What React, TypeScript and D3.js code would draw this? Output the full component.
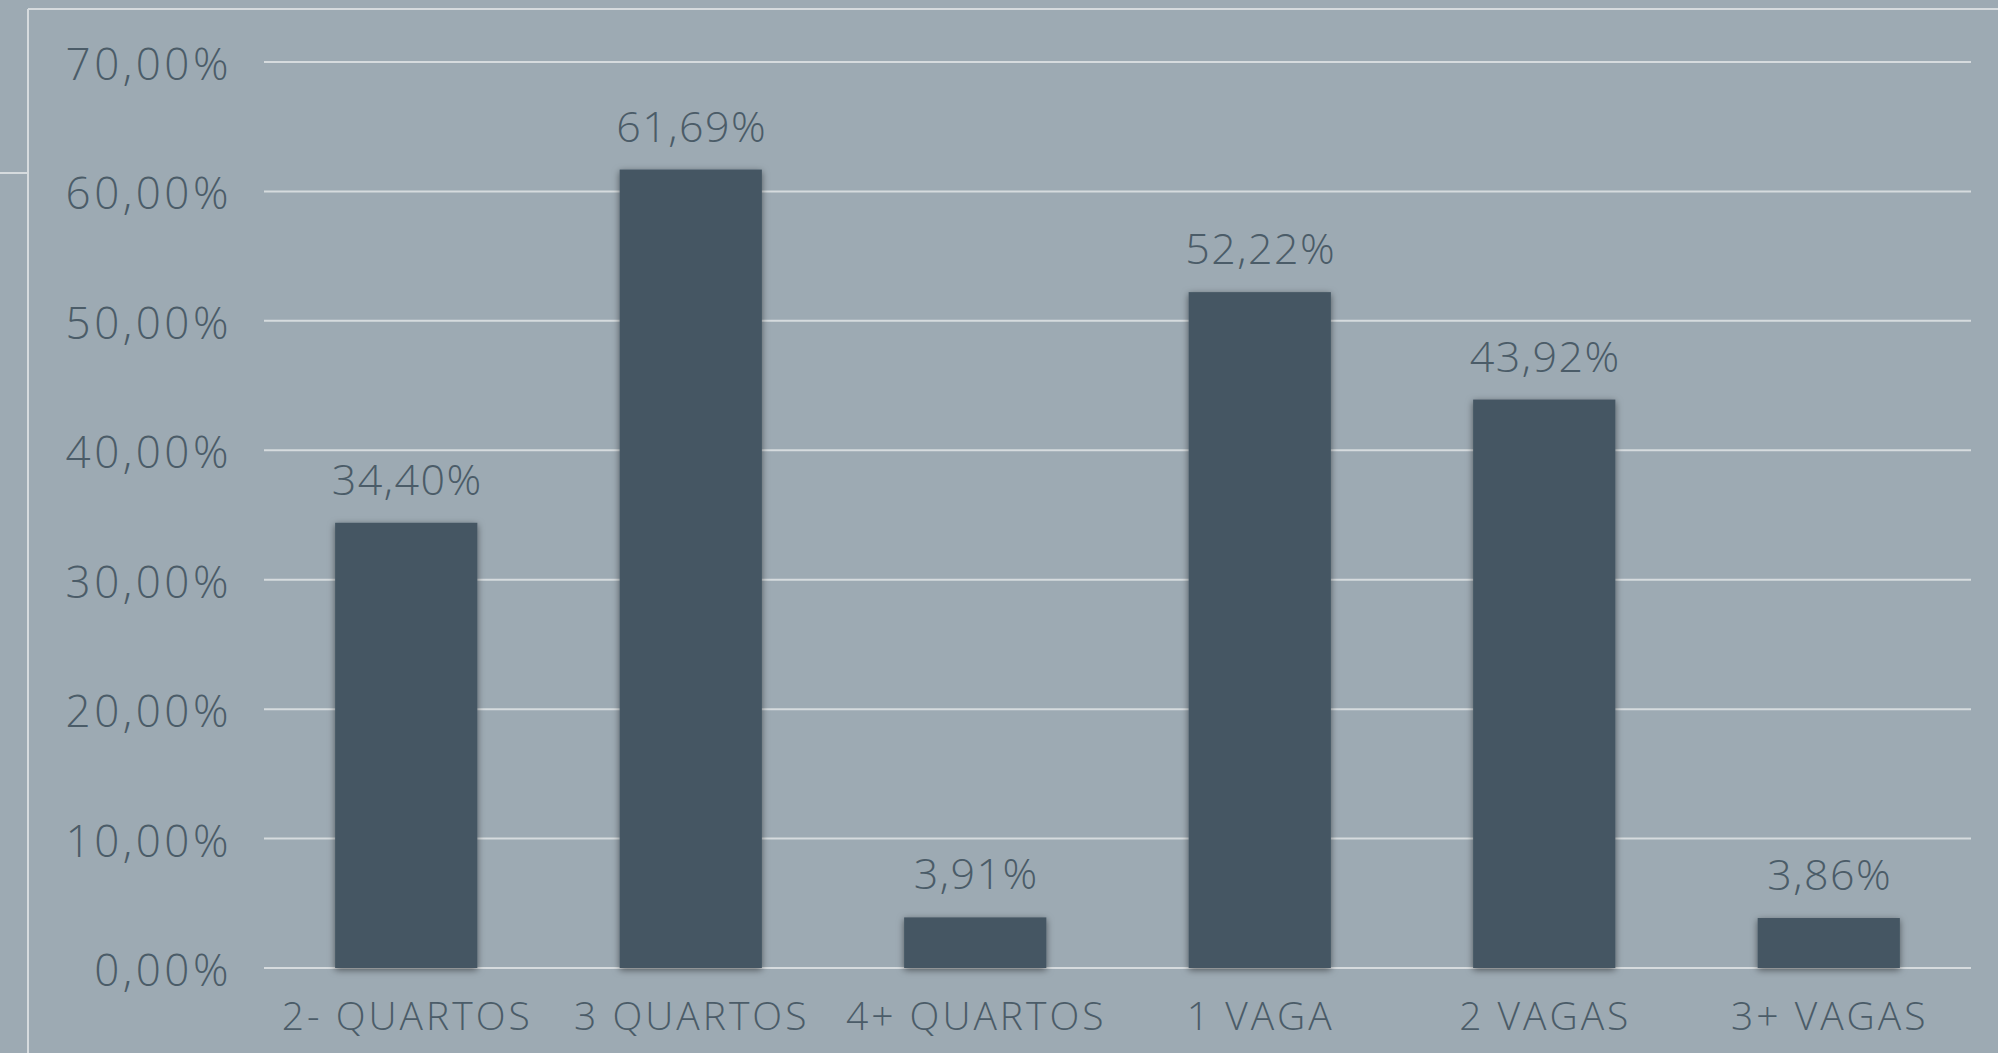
import React, { useEffect, useRef } from 'react';
import * as d3 from 'd3';

const categories = ['2- QUARTOS', '3 QUARTOS', '4+ QUARTOS', '1 VAGA', '2 VAGAS', '3+ VAGAS'];
const values = [34.40, 61.69, 3.91, 52.22, 43.92, 3.86];
const yTicks = [0, 10, 20, 30, 40, 50, 60, 70];

const W = 1998;
const H = 1053;
const FONT = '"Open Sans", sans-serif';
const TEXT = '#4b5c68';

const App = () => {
    const svgRef = useRef<SVGSVGElement>(null);

    useEffect(() => {
        document.body.style.margin = '0';
        const svg = d3.select(svgRef.current);
        svg.selectAll('*').remove();

        const ptBR = d3.formatLocale({ decimal: ',', thousands: '.', grouping: [3], currency: ['', ''] });
        const fmt = (v: number) => ptBR.format('.2f')(v) + '%';

        const x = d3.scaleBand<string>()
            .domain(categories)
            .range([264, 1971])
            .paddingInner(0.5)
            .paddingOuter(0.25);

        const y = d3.scaleLinear()
            .domain([0, 70])
            .range([968, 62]);

        // shadow under the bars
        const defs = svg.append('defs');
        defs.append('filter')
            .attr('id', 'barShadow')
            .attr('x', '-20%').attr('y', '-20%')
            .attr('width', '140%').attr('height', '140%')
            .append('feDropShadow')
            .attr('dx', 0).attr('dy', 2)
            .attr('stdDeviation', 3.5)
            .attr('flood-color', '#000')
            .attr('flood-opacity', 0.5);

        svg.append('rect')
            .attr('width', W).attr('height', H)
            .attr('fill', '#9daab3');

        // frame lines
        const frame = svg.append('g')
            .attr('stroke', '#d6dbde')
            .attr('stroke-width', 2);
        frame.append('line').attr('x1', 28).attr('x2', W).attr('y1', 9).attr('y2', 9);
        frame.append('line').attr('x1', 28).attr('x2', 28).attr('y1', 9).attr('y2', H);
        frame.append('line').attr('x1', 0).attr('x2', 27).attr('y1', 173).attr('y2', 173);

        // gridlines
        svg.append('g')
            .selectAll('line')
            .data(yTicks)
            .enter()
            .append('line')
            .attr('x1', 264)
            .attr('x2', 1971)
            .attr('y1', d => y(d))
            .attr('y2', d => y(d))
            .attr('stroke', '#d6dbde')
            .attr('stroke-width', 2);

        // y labels
        svg.append('g')
            .selectAll('text')
            .data(yTicks)
            .enter()
            .append('text')
            .attr('x', 232)
            .attr('y', d => y(d) + 18)
            .attr('text-anchor', 'end')
            .style('font-family', FONT)
            .style('font-weight', 300)
            .style('font-size', '44px')
            .style('letter-spacing', '3.5px')
            .style('fill', TEXT)
            .text(d => fmt(d));

        // bars
        svg.append('g')
            .selectAll('rect')
            .data(values)
            .enter()
            .append('rect')
            .attr('x', (d, i) => x(categories[i]))
            .attr('y', d => y(d))
            .attr('width', x.bandwidth())
            .attr('height', d => y(0) - y(d))
            .attr('fill', '#455663')
            .attr('filter', 'url(#barShadow)');

        // value labels
        svg.append('g')
            .selectAll('text')
            .data(values)
            .enter()
            .append('text')
            .attr('x', (d, i) => x(categories[i]) + x.bandwidth() / 2 + 1)
            .attr('y', d => y(d) - 28)
            .attr('text-anchor', 'middle')
            .style('font-family', FONT)
            .style('font-weight', 300)
            .style('font-size', '43px')
            .style('letter-spacing', '1.5px')
            .style('fill', TEXT)
            .text(d => fmt(d));

        // category labels
        svg.append('g')
            .selectAll('text')
            .data(categories)
            .enter()
            .append('text')
            .attr('x', d => x(d) + x.bandwidth() / 2 + 1)
            .attr('y', 1030)
            .attr('text-anchor', 'middle')
            .style('font-family', FONT)
            .style('font-weight', 300)
            .style('font-size', '39px')
            .style('letter-spacing', '3px')
            .style('fill', TEXT)
            .text(d => d);
    }, []);

    return <svg ref={svgRef} width={W} height={H} style={{ display: 'block' }}></svg>;
};

export default App;
